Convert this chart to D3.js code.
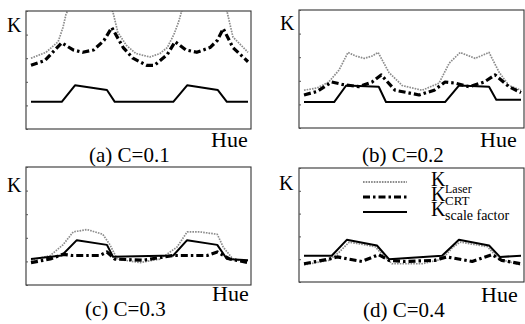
<!DOCTYPE html>
<html>
<head>
<meta charset="utf-8">
<script src="https://cdn.jsdelivr.net/npm/d3@7"></script>
<style>
  html, body { margin: 0; padding: 0; background: #fff; }
  svg { display: block; font-family: "Liberation Serif", "Times New Roman", serif; }
</style>
</head>
<body>
<div id="chart"></div>
<script>
// Hue range and K range shared by all four panels
var hueDomain = [0, 360];
var kDomain = [0, 10];

// Series names for the legend
var seriesNames = ["Laser", "CRT", "scale factor"];

// Panel captions
var captions = ["(a) C=0.1", "(b) C=0.2", "(c) C=0.3", "(d) C=0.4"];

// (a) C=0.1  -- [hue, K]
var laserA = [[0,6.0],[25,6.5],[45,7.4],[53,8.6],[58,9.7],[73,11.5],[98,12.5],[123,11.5],[136,9.9],[144,8.2],[158,7.1],[174,6.4],[197,6.1],[214,6.4],[226,6.9],[237,8.0],[245,9.1],[250,10.0],[272,11.8],[294,12.3],[314,11.5],[325,10.0],[335,7.8],[360,6.5]];
var crtA = [[0,5.4],[23,5.8],[51,7.3],[70,6.7],[86,6.5],[104,6.7],[121,7.5],[134,8.6],[153,6.9],[169,6.0],[192,5.4],[205,5.4],[226,6.3],[239,7.4],[257,6.7],[275,6.5],[297,6.9],[309,7.5],[319,8.5],[335,6.9],[360,5.7]];
var scaleA = [[0,2.3],[51,2.3],[73,3.7],[126,3.3],[139,2.3],[236,2.3],[259,3.7],[310,3.3],[325,2.3],[360,2.3]];

// (b) C=0.2
var laserB = [[0,3.2],[22,3.4],[41,3.9],[58,4.9],[73,6.4],[86,6.1],[100,5.9],[113,6.1],[123,6.4],[141,4.7],[163,3.6],[196,3.2],[224,3.8],[241,5.5],[259,6.4],[284,5.9],[307,6.4],[324,4.7],[340,3.6],[360,3.2]];
var crtB = [[0,2.8],[22,3.1],[46,3.9],[63,3.7],[91,3.5],[113,3.9],[128,4.5],[151,3.2],[191,2.8],[216,3.2],[234,3.9],[251,3.8],[274,3.5],[299,3.9],[317,4.5],[340,3.5],[360,3.0]];
var scaleB = [[0,2.2],[50,2.2],[70,3.6],[124,3.5],[136,2.2],[234,2.2],[257,3.6],[307,3.5],[319,2.4],[360,2.4]];

// (c) C=0.3
var laserC = [[0,2.1],[32,2.5],[53,3.4],[70,4.5],[93,4.7],[119,4.3],[131,3.4],[143,2.2],[181,1.9],[214,2.2],[242,3.2],[259,4.5],[280,4.5],[309,4.3],[319,3.2],[335,2.2],[360,1.9]];
var crtC = [[0,1.9],[32,2.2],[53,2.6],[68,2.5],[114,2.5],[126,2.8],[139,2.2],[186,2.1],[236,2.5],[251,2.5],[292,2.5],[309,2.8],[330,2.2],[360,1.9]];
var scaleC = [[0,2.2],[51,2.5],[76,3.8],[126,3.4],[136,2.4],[236,2.5],[259,3.8],[309,3.4],[325,2.2],[360,2.1]];

// (d) C=0.4
var laserD = [[0,1.5],[41,1.9],[58,2.6],[75,3.5],[118,3.1],[134,2.2],[146,1.6],[196,1.6],[229,2.0],[246,3.0],[259,3.5],[304,3.1],[324,2.0],[360,1.5]];
var crtD = [[0,1.6],[41,2.0],[55,2.2],[96,1.8],[124,2.4],[141,1.9],[168,1.8],[217,1.9],[237,2.2],[279,1.8],[312,2.4],[328,1.9],[360,1.6]];
var scaleD = [[0,2.3],[46,2.3],[71,3.7],[121,3.2],[141,2.0],[229,2.3],[257,3.7],[307,3.2],[325,2.2],[360,2.3]];

var panelSeries = [
    [laserA, crtA, scaleA],
    [laserB, crtB, scaleB],
    [laserC, crtC, scaleC],
    [laserD, crtD, scaleD]
];

// Layout (pixels)
var W = 525, H = 324;
var boxes = [
    { left: 26,  top: 11,  right: 251, bottom: 129, kX: 7,   kY: 32,  hueX: 211, hueY: 147, capX: 89,  capY: 162 },
    { left: 299, top: 10,  right: 524, bottom: 128, kX: 280, kY: 30,  hueX: 480, hueY: 147, capX: 362, capY: 162 },
    { left: 26,  top: 167, right: 251, bottom: 285, kX: 7,   kY: 192, hueX: 212, hueY: 301, capX: 85,  capY: 316 },
    { left: 299, top: 168, right: 524, bottom: 282, kX: 279, kY: 190, hueX: 481, hueY: 302, capX: 363, capY: 317 }
];

var styles = [
    { stroke: "#8c8c8c", width: 1.7, dash: "1.6,1.1" },
    { stroke: "#000",    width: 3.2, dash: "7,3,2.5,3" },
    { stroke: "#000",    width: 2,   dash: null }
];

var svg = d3.select("#chart").append("svg")
    .attr("width", W)
    .attr("height", H);

var defs = svg.append("defs");

boxes.forEach(function(b, i) {
    var x = d3.scaleLinear().domain(hueDomain).range([b.left + 5, b.right - 3]);
    var y = d3.scaleLinear().domain(kDomain).range([b.bottom, b.top]);

    defs.append("clipPath").attr("id", "clip" + i)
        .append("rect")
        .attr("x", b.left).attr("y", b.top)
        .attr("width", b.right - b.left).attr("height", b.bottom - b.top);

    var line = d3.line()
        .x(function(d) { return x(d[0]); })
        .y(function(d) { return y(d[1]); });

    var g = svg.append("g").attr("clip-path", "url(#clip" + i + ")");
    panelSeries[i].forEach(function(data, s) {
        var st = styles[s];
        g.append("path")
            .attr("class", "line")
            .attr("d", line(data))
            .attr("fill", "none")
            .attr("stroke", st.stroke)
            .attr("stroke-width", st.width)
            .attr("stroke-dasharray", st.dash)
            .attr("stroke-linejoin", "round");
    });

    // frame
    svg.append("rect")
        .attr("x", b.left).attr("y", b.top)
        .attr("width", b.right - b.left).attr("height", b.bottom - b.top)
        .attr("fill", "none")
        .attr("stroke", "#333")
        .attr("stroke-width", 1.1);

    // small ticks on the K axis
    var yAxis = d3.axisRight(y).ticks(5).tickSize(2).tickFormat("");
    var ga = svg.append("g").attr("transform", "translate(" + b.left + ",0)").call(yAxis);
    ga.select(".domain").remove();
    ga.selectAll("line").attr("stroke", "#555");

    svg.append("text").attr("x", b.kX).attr("y", b.kY)
        .attr("font-size", 20).text("K");
    svg.append("text").attr("x", b.hueX).attr("y", b.hueY)
        .attr("font-size", 22).text("Hue");
    svg.append("text").attr("x", b.capX).attr("y", b.capY)
        .attr("font-size", 21).text(captions[i]);
});

// Legend in panel (d)
var legY = [182, 197, 212];
var legK = [186, 201, 216];
var subY = [193, 205, 220];
var subSize = [12, 13, 14];
var leg = svg.append("g");
seriesNames.forEach(function(name, s) {
    var st = styles[s];
    leg.append("line")
        .attr("x1", 363).attr("x2", 407)
        .attr("y1", legY[s]).attr("y2", legY[s])
        .attr("stroke", st.stroke)
        .attr("stroke-width", s === 0 ? 2 : st.width)
        .attr("stroke-dasharray", st.dash);
    leg.append("text").attr("x", 431).attr("y", legK[s])
        .attr("font-size", 20).text("K");
    leg.append("text").attr("x", 445).attr("y", subY[s])
        .attr("font-size", subSize[s]).text(name);
});
</script>
</body>
</html>
